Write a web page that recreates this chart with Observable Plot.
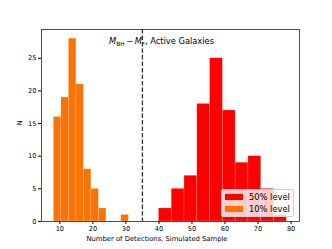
<!DOCTYPE html>
<html>
<head>
<meta charset="utf-8">
<script src="https://cdn.jsdelivr.net/npm/d3@7"></script>
<script src="https://cdn.jsdelivr.net/npm/@observablehq/plot@0.6"></script>
<style>
  html, body { margin: 0; padding: 0; background: #fff; }
  #wrap { position: relative; width: 332px; height: 249px; font-family: "DejaVu Sans", sans-serif; }
  #title { position: absolute; left: 109px; top: 37px; font-size: 8.3px; white-space: nowrap; line-height: 1; color: #000; }
  #title sub { font-size: 5.8px; vertical-align: -1.5px; line-height: 0; }
  #legend { position: absolute; left: 221px; top: 189px; width: 73px; height: 28px; box-sizing: border-box;
            background: rgba(255,255,255,0.8); border: 0.8px solid #d0d0d0; border-radius: 2px; }
  .row { position: absolute; left: 2.5px; height: 9px; display: flex; align-items: center; font-size: 8.3px; color: #000; white-space: nowrap; }
  .patch { width: 18px; height: 6px; margin-right: 6.5px; }
</style>
</head>
<body>
<div id="wrap">
  <div id="chart"></div>
  <div id="title"><i>M</i><sub>BH</sub>&#8201;&#8722;&#8201;<i>M</i><sub>*</sub>, Active Galaxies</div>
  <div id="legend"></div>
</div>
<script>
// Histogram counts (10 bins each)
const orangeCounts = [16, 19, 28, 21, 8, 5, 2, 0, 0, 1];
const orangeRange = [8.2, 30.9];
const redCounts = [2, 5, 7, 18, 25, 17, 9, 10, 5, 1];
const redRange = [40.0, 78.7];
const seriesLabels = ["50% level", "10% level"];
const seriesColors = ["#ff0000", "#f97306"];
const threshold = [35];
const xTicks = [10, 20, 30, 40, 50, 60, 70, 80];
const yTicks = [0, 5, 10, 15, 20, 25];
const xLabel = "Number of Detections, Simulated Sample";
const yLabel = "N";

function bins(counts, range) {
  const n = counts.length, w = (range[1] - range[0]) / n;
  return counts.map((c, i) => ({x1: range[0] + i * w, x2: range[0] + (i + 1) * w, count: c})).filter(d => d.count > 0);
}
const orangeBins = bins(orangeCounts, orangeRange);
const redBins = bins(redCounts, redRange);

const chart = Plot.plot({
  width: 332,
  height: 249,
  marginLeft: 41,
  marginRight: 33,
  marginTop: 29,
  marginBottom: 28,
  style: {fontFamily: "DejaVu Sans, sans-serif", fontSize: "6.6px", color: "black", background: "#fff"},
  x: {domain: [4.45, 82.55]},
  y: {domain: [0, 29.4]},
  marks: [
    Plot.rectY(redBins, {x1: "x1", x2: "x2", y: "count", fill: seriesColors[0], stroke: "#fff", strokeOpacity: 0.3, strokeWidth: 0.6}),
    Plot.rectY(orangeBins, {x1: "x1", x2: "x2", y: "count", fill: seriesColors[1], stroke: "#fff", strokeOpacity: 0.3, strokeWidth: 0.6}),
    Plot.ruleX(threshold, {stroke: "#333", strokeWidth: 1.3, strokeDasharray: "4.5,2"}),
    Plot.frame({stroke: "#222", strokeWidth: 0.8}),
    Plot.axisX({ticks: xTicks, tickSize: 3, tickPadding: 2, label: null, tickFormat: d => String(d), fill: "black"}),
    Plot.axisY({ticks: yTicks, tickSize: 3, tickPadding: 2, label: null, tickFormat: d => String(d), fill: "black"}),
    Plot.text([xLabel], {text: d => d, frameAnchor: "bottom", dx: -13.5, dy: 19, fill: "black", fontSize: 6.8}),
    Plot.text([yLabel], {text: d => d, frameAnchor: "left", rotate: -90, dx: -22, fill: "black", fontSize: 6.8})
  ]
});
document.getElementById("chart").appendChild(chart);

const legend = document.getElementById("legend");
seriesLabels.forEach((lab, i) => {
  const row = document.createElement("div");
  row.className = "row";
  row.style.top = (i === 0 ? 2 : 14.5) + "px";
  const p = document.createElement("div");
  p.className = "patch";
  p.style.background = seriesColors[i];
  row.appendChild(p);
  row.appendChild(document.createTextNode(lab));
  legend.appendChild(row);
});
</script>
</body>
</html>
